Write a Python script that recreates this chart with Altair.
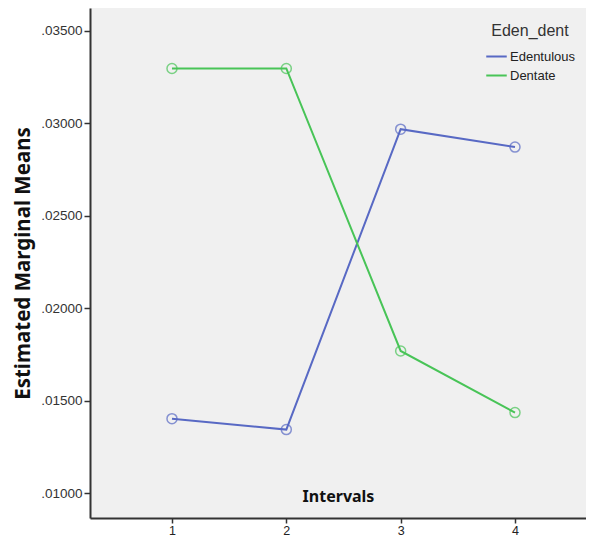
import altair as alt
import pandas as pd

intervals = [1, 2, 3, 4]
edentulous = [0.01403, 0.01344, 0.02968, 0.02871]
dentate = [0.03296, 0.03296, 0.01769, 0.01436]
groups = ["Edentulous", "Dentate"]
colors = ["#5869C4", "#48C457"]

rows = []
for g, vals in zip(groups, [edentulous, dentate]):
    for x, v in zip(intervals, vals):
        rows.append({"Intervals": x, "Mean": v, "Eden_dent": g})
df = pd.DataFrame(rows)

xenc = alt.X("Intervals:Q",
             scale=alt.Scale(domain=[0.283, 4.621], nice=False, zero=False),
             axis=alt.Axis(values=intervals, format="d", title="Intervals",
                           titleFontWeight="bold", titleFontSize=16, titleFont="Noto Sans",
                           titleY=-22, titleBaseline="middle", titleColor="#111",
                           labelFont="Liberation Sans", labelFontSize=12.5, labelColor="#222",
                           labelPadding=1, tickSize=5, tickColor="#333", domainColor="#333",
                           domainWidth=2, tickWidth=1.5, grid=False))
yenc = alt.Y("Mean:Q",
             scale=alt.Scale(domain=[0.00866, 0.03623], nice=False, zero=False),
             axis=alt.Axis(values=[0.01, 0.015, 0.02, 0.025, 0.03, 0.035],
                           labelExpr="substring(format(datum.value, '.5f'), 1)",
                           title="Estimated Marginal Means", titleFontWeight="bold",
                           titleFontSize=20.5, titleFont="Noto Sans", titleColor="#111",
                           titlePadding=7,
                           labelFont="Liberation Sans", labelFontSize=13.5, labelColor="#333",
                           tickSize=6, tickColor="#333", domainColor="#333", domainWidth=2,
                           tickWidth=1.5, labelPadding=2, grid=False))
cenc = alt.Color("Eden_dent:N",
                 scale=alt.Scale(domain=groups, range=colors),
                 legend=alt.Legend(orient="none", legendX=395, legendY=15,
                                   symbolType="stroke", symbolStrokeWidth=2, symbolSize=420,
                                   title="Eden_dent", titleFontWeight="normal",
                                   titleFontSize=16, titleFont="Liberation Sans",
                                   titleColor="#333", titlePadding=6, titleAnchor="middle",
                                   labelFont="Liberation Sans", labelFontSize=13,
                                   labelColor="#222", rowPadding=0, symbolOffset=0,
                                   labelOffset=2))

lines = alt.Chart(df).mark_line(strokeWidth=2).encode(
    x=xenc, y=yenc, color=cenc, order="Intervals:Q")
points = alt.Chart(df).mark_point(filled=False, size=100, strokeWidth=1.5).encode(
    x=xenc, y=yenc, color=alt.Color("Eden_dent:N", scale=alt.Scale(domain=groups, range=colors), legend=None))

chart = (lines + points).properties(
    width=496, height=510,
    autosize=alt.AutoSizeParams(type="none"),
    padding={"left": 82, "top": 0, "right": 0, "bottom": 21},
    background="white",
).configure_view(fill="#F0F0F0", stroke=None)

chart.save("out.html", embed_options={"renderer": "svg", "actions": False})
